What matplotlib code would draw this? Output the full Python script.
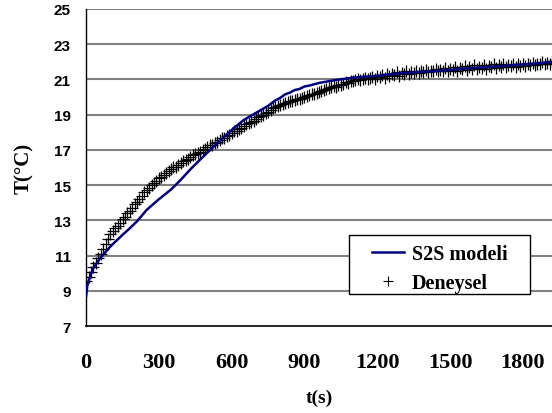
import matplotlib
matplotlib.use("Agg")
import matplotlib.pyplot as plt
from matplotlib.lines import Line2D
from matplotlib.patches import Rectangle

# Experimental data (every 10 s)
exp_t = list(range(0, 1921, 10))
exp_T = [9.55, 9.8, 10.05, 10.35, 10.6, 10.85, 11.1, 11.4, 11.65, 11.95,
         12.2, 12.4, 12.55, 12.7, 12.85, 13.05, 13.2, 13.4, 13.55, 13.7,
         13.9, 14.05, 14.2, 14.4, 14.6, 14.75, 14.85, 15.0, 15.1, 15.25,
         15.4, 15.45, 15.55, 15.7, 15.8, 15.9, 16.0, 16.05, 16.15, 16.25,
         16.35, 16.4, 16.5, 16.6, 16.7, 16.75, 16.85, 16.9, 17.0, 17.05,
         17.15, 17.25, 17.3, 17.4, 17.45, 17.55, 17.65, 17.7, 17.8, 17.85,
         17.95, 18.05, 18.1, 18.2, 18.25, 18.35, 18.45, 18.5, 18.6, 18.65,
         18.75, 18.85, 18.9, 19.0, 19.1, 19.15, 19.25, 19.35, 19.45, 19.5,
         19.55, 19.6, 19.65, 19.7, 19.75, 19.8, 19.85, 19.9, 19.9, 19.95,
         20.0, 20.05, 20.1, 20.15, 20.2, 20.25, 20.3, 20.35, 20.4, 20.45,
         20.5, 20.55, 20.6, 20.55, 20.7, 20.7, 20.75, 20.85, 20.8, 20.9,
         20.9, 20.95, 21.0, 20.95, 21.05, 21.1, 21.0, 21.1, 21.15, 21.05,
         21.2, 21.15, 21.25, 21.1, 21.3, 21.2, 21.3, 21.25, 21.4, 21.2,
         21.35, 21.3, 21.45, 21.3, 21.4, 21.35, 21.5, 21.35, 21.45, 21.4,
         21.55, 21.4, 21.5, 21.45, 21.6, 21.45, 21.55, 21.5, 21.65, 21.5,
         21.6, 21.55, 21.7, 21.5, 21.65, 21.6, 21.75, 21.55, 21.7, 21.6,
         21.8, 21.6, 21.7, 21.65, 21.8, 21.6, 21.75, 21.7, 21.85, 21.65,
         21.8, 21.7, 21.85, 21.7, 21.8, 21.75, 21.9, 21.7, 21.85, 21.75,
         21.9, 21.75, 21.85, 21.8, 21.95, 21.8, 21.9, 21.85, 22.0, 21.85,
         21.95, 21.9, 22.05]

# S2S model
mod_t = [0, 5, 16, 30, 58, 80, 99, 125, 152, 180, 210, 250, 300, 350, 390,
         430, 470, 500, 550, 606, 650, 700, 750, 779, 800, 820, 840, 860,
         878, 900, 920, 960, 1030, 1100, 1195, 1300, 1400, 1471, 1550, 1650,
         1750, 1850, 1920]
mod_T = [8.7, 9.3, 9.8, 10.3, 10.85, 11.2, 11.5, 11.85, 12.2, 12.55, 12.95,
         13.6, 14.2, 14.75, 15.3, 15.9, 16.45, 16.85, 17.5, 18.2, 18.7, 19.1,
         19.5, 19.8, 19.95, 20.15, 20.25, 20.4, 20.45, 20.6, 20.65, 20.8,
         20.97, 21.1, 21.2, 21.35, 21.45, 21.5, 21.6, 21.7, 21.8, 21.9, 22.0]

x_ticks = [0, 300, 600, 900, 1200, 1500, 1800]
y_ticks = [7, 9, 11, 13, 15, 17, 19, 21, 23, 25]

fig = plt.figure(figsize=(5.52, 4.14), dpi=100)
ax = fig.add_axes([0.156, 0.210, 0.844, 0.766])

ax.set_xlim(0, 1920)
ax.set_ylim(7, 25)
for y in y_ticks[1:]:
    ax.axhline(y, color="#808080", lw=1.5, zorder=0)

ax.plot(exp_t[:len(exp_T)], exp_T, linestyle="none", marker="+",
        markersize=8, markeredgewidth=0.9, color="black", zorder=2)
ax.plot(mod_t, mod_T, color="#000080", lw=1.8, zorder=3)

for s in ["top", "right"]:
    ax.spines[s].set_visible(False)
ax.spines["left"].set_color("black")
ax.spines["bottom"].set_color("black")
ax.spines["left"].set_linewidth(1.0)
ax.spines["bottom"].set_linewidth(1.2)

ax.set_xticks(x_ticks)
ax.set_yticks(y_ticks)
ax.set_xticklabels([str(v) for v in x_ticks], fontfamily="Liberation Serif",
                   fontweight="bold", fontsize=16)
ax.set_yticklabels([str(v) for v in y_ticks], fontfamily="Liberation Sans",
                   fontweight="bold", fontsize=11)
ax.tick_params(axis="x", length=0, pad=19)
ax.tick_params(axis="y", length=0, pad=11)

ax.set_xlabel("t(s)", fontfamily="Liberation Serif", fontweight="bold",
              fontsize=14, labelpad=12)
ax.set_ylabel("T(°C)", fontfamily="Liberation Serif", fontweight="bold",
              fontsize=15, labelpad=14)

# Legend frame
leg_box = (0.564, 0.101, 0.389, 0.186)
ax.add_patch(Rectangle(leg_box[:2], leg_box[2], leg_box[3],
                       transform=ax.transAxes, facecolor="white",
                       edgecolor="black", lw=1.0, zorder=4.5))
handles = [Line2D([], [], color="#000080", lw=1.8),
           Line2D([], [], linestyle="none", marker="+", markersize=7,
                  markeredgewidth=0.8, color="black")]
leg = ax.legend(handles, ["S2S modeli", "Deneysel"], loc="center",
                bbox_to_anchor=(leg_box[0], leg_box[1] - 0.012,
                                leg_box[2], leg_box[3]),
                prop={"family": "Liberation Serif", "weight": "bold", "size": 14.5},
                frameon=False, handlelength=1.6, borderpad=0.0,
                labelspacing=0.42, handletextpad=0.4, borderaxespad=0)
leg.set_zorder(5)

fig.savefig("out.png", dpi=100)
